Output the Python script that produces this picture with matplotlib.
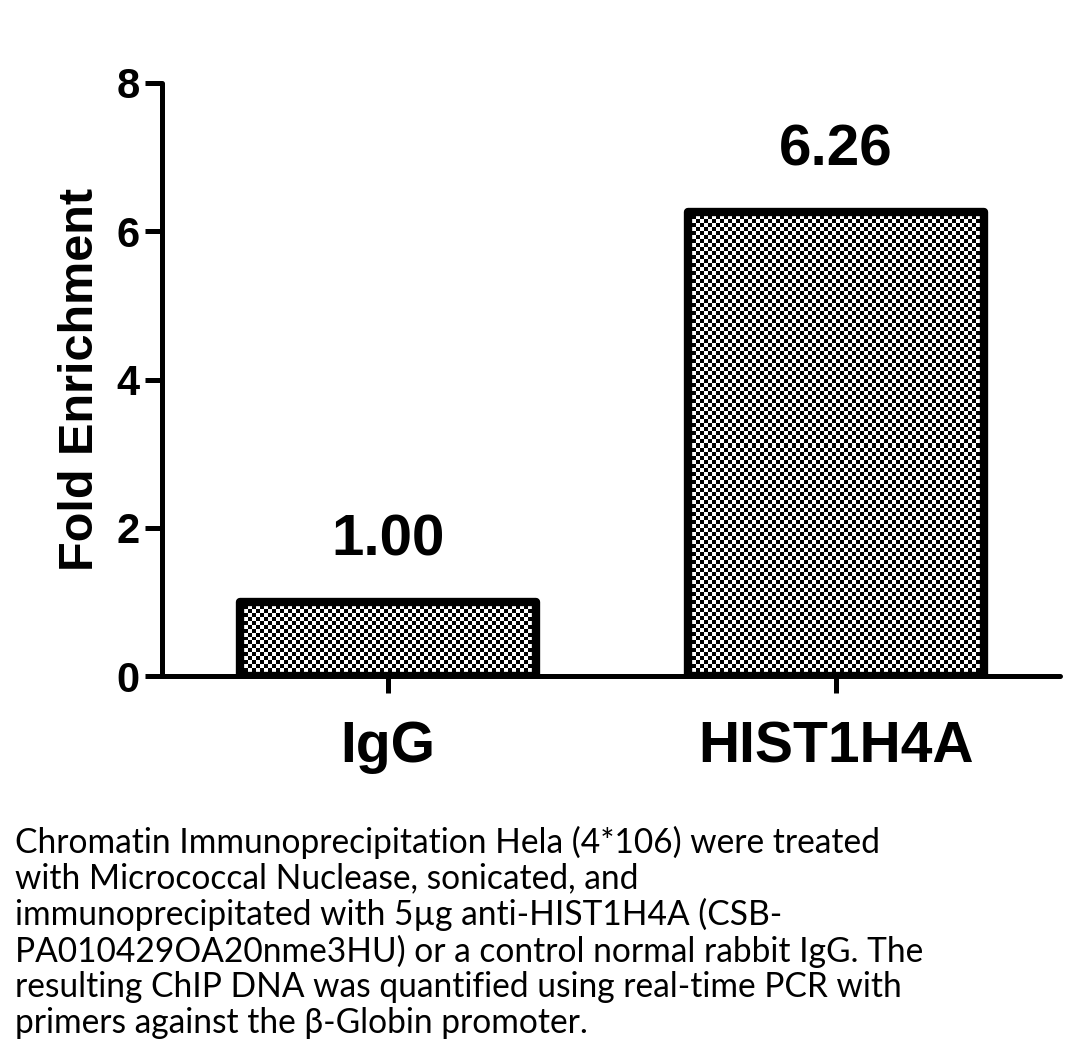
import numpy as np
import matplotlib
matplotlib.use('Agg')
import matplotlib.pyplot as plt

# Data
groups = ['IgG', 'HIST1H4A']
fold = [1.00, 6.26]
value_labels = ['1.00', '6.26']
yticks = [0, 2, 4, 6, 8]
caption = ("Chromatin Immunoprecipitation Hela (4*106) were treated\n"
           "with Micrococcal Nuclease, sonicated, and\n"
           "immunoprecipitated with 5\u00b5g anti-HIST1H4A (CSB-\n"
           "PA010429OA20nme3HU) or a control normal rabbit IgG. The\n"
           "resulting ChIP DNA was quantified using real-time PCR with\n"
           "primers against the \u03b2-Globin promoter.")

plt.rcParams['font.family'] = ['Liberation Sans', 'DejaVu Sans']
plt.rcParams['font.weight'] = 'bold'

fig = plt.figure(figsize=(10.88, 10.52), dpi=100)
ax = fig.add_axes([162 / 1088, 1 - 676 / 1052, 898 / 1088, 593 / 1052])

x = np.arange(len(groups))
bars = ax.bar(x, fold, width=0.66, facecolor='none', edgecolor='black',
              linewidth=6, joinstyle='round', zorder=3)

ax.set_xlim(-0.504, 1.5)
ax.set_ylim(0, 8)

# checkerboard fill clipped to each bar
fig.canvas.draw()
to_px = ax.transData
for b in bars:
    x0, y0, w, h = b.get_x(), b.get_y(), b.get_width(), b.get_height()
    (px0, py0), (px1, py1) = to_px.transform([(x0, y0), (x0 + w, y0 + h)])
    nx = max(1, int(round((px1 - px0) / 4)))
    ny = max(1, int(round((py1 - py0) / 4)))
    ii, jj = np.meshgrid(np.arange(nx), np.arange(ny))
    board = ((ii + jj) % 2).astype(float)
    im = ax.imshow(board, cmap='gray', interpolation='nearest', aspect='auto',
                   extent=(x0, x0 + w, y0, y0 + h), zorder=2, vmin=0, vmax=1)
    im.set_clip_path(b)

ax.set_xlim(-0.504, 1.5)
ax.set_ylim(0, 8)

for b, lab in zip(bars, value_labels):
    ax.annotate(lab, (b.get_x() + b.get_width() / 2, b.get_height()),
                xytext=(0, 25), textcoords='offset points', ha='center',
                va='bottom', fontsize=42, fontweight='bold')

ax.spines['top'].set_visible(False)
ax.spines['right'].set_visible(False)
for s in ('left', 'bottom'):
    ax.spines[s].set_linewidth(3.6)
    ax.spines[s].set_capstyle('round')

ax.set_yticks(yticks)
ax.set_yticklabels([str(t) for t in yticks], fontsize=30, fontweight='bold')
ax.set_xticks(x)
ax.set_xticklabels(groups, fontsize=41, fontweight='bold')
ax.tick_params(axis='y', direction='out', length=12, width=3.6, pad=4)
ax.tick_params(axis='x', direction='out', length=12, width=3.6, pad=20)
ax.set_ylabel('Fold Enrichment', fontsize=35, fontweight='bold', labelpad=10)

# caption, sized so the first line spans the same width as the reference
cap = fig.text(15 / 1088, 1 - 826 / 1052, caption, ha='left', va='top',
               fontsize=20, fontweight='normal', family=['Lato', 'DejaVu Sans'],
               linespacing=1.13)
fig.canvas.draw()
r = fig.canvas.get_renderer()
first = fig.text(0, 0, caption.split('\n')[0], fontsize=20, fontweight='normal',
                 family=['Lato', 'DejaVu Sans'])
wpx = first.get_window_extent(r).width
first.remove()
cap.set_fontsize(20 * 867 / wpx)

fig.savefig('out.png', dpi=100)
